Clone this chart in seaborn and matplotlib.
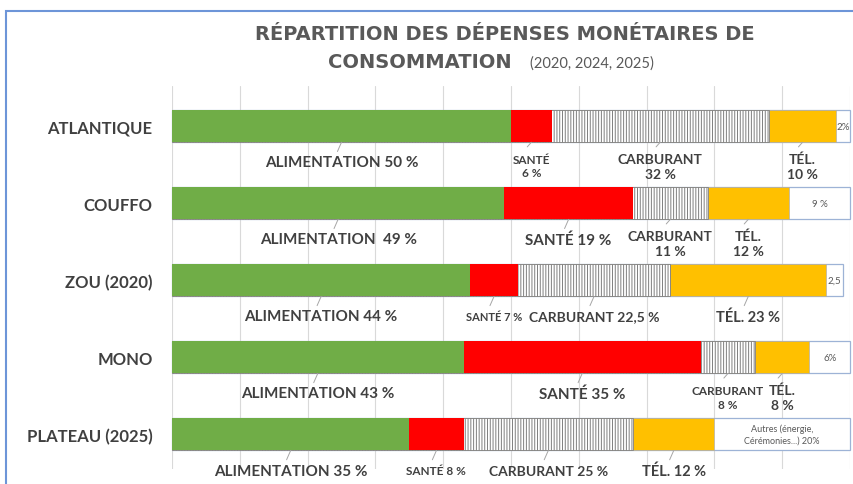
import numpy as np
import pandas as pd
import matplotlib.pyplot as plt
import matplotlib.patches as mpatches
import seaborn as sns

# data
regions = ["ATLANTIQUE", "COUFFO", "ZOU (2020)", "MONO", "PLATEAU (2025)"]
postes = ["Alimentation", "Santé", "Carburant", "Tél.", "Autres"]
alimentation = [50, 49, 44, 43, 35]
sante = [6, 19, 7, 35, 8]
carburant = [32, 11, 22.5, 8, 25]
tel = [10, 12, 23, 8, 12]
autres = [2, 9, 2.5, 6, 20]

labels_alim = ["ALIMENTATION 50 %", "ALIMENTATION  49 %", "ALIMENTATION 44 %",
               "ALIMENTATION 43 %", "ALIMENTATION 35 %"]
labels_sante = ["SANTÉ\n6 %", "SANTÉ 19 %", "SANTÉ 7 %", "SANTÉ 35 %", "SANTÉ 8 %"]
labels_carb = ["CARBURANT\n32 %", "CARBURANT\n11 %", "CARBURANT 22,5 %",
               "CARBURANT\n8 %", "CARBURANT 25 %"]
labels_tel = ["TÉL.\n10 %", "TÉL.\n12 %", "TÉL. 23 %", "TÉL.\n8 %", "TÉL. 12 %"]
labels_autres = ["2%", "9 %", "2,5", "6%", "Autres (énergie,\nCérémonies...) 20%"]

size_alim = [11, 11, 11, 11, 11]
size_sante = [8.5, 11, 8, 11, 8.5]
size_carb = [10, 10, 10, 8.5, 10]
size_tel = [10, 10, 10.5, 10, 10.5]

df = pd.DataFrame({"region": regions, "Alimentation": alimentation, "Santé": sante,
                   "Carburant": carburant, "Tél.": tel, "Autres": autres})
cum = df[postes].cumsum(axis=1)
cum["region"] = regions

sns.set_style("white")
plt.rcParams["font.family"] = ["Lato", "DejaVu Sans"]
plt.rcParams["hatch.linewidth"] = 0.7

fig = plt.figure(figsize=(8.54, 4.85), dpi=100)
ax = fig.add_axes([172 / 854, 1 - 470 / 485, 678 / 854, 383 / 485])

colors = {"Alimentation": "#70AD47", "Santé": "#FF0000", "Carburant": "white",
          "Tél.": "#FFC000", "Autres": "white"}

# stacked bars: draw cumulative totals from the last segment to the first
for p in postes[::-1]:
    before = len(ax.patches)
    sns.barplot(data=cum, y="region", x=p, orient="h", color=colors[p],
                width=0.415, saturation=1, ax=ax)
    for patch in ax.patches[before:]:
        if p == "Autres":
            patch.set_edgecolor("#9db3d6")
            patch.set_linewidth(0.9)
            patch.set_clip_on(False)
        elif p == "Carburant":
            patch.set_hatch("||||||")
            patch.set_edgecolor("#7f7f7f")
            patch.set_linewidth(0.6)
        elif p == "Tél.":
            patch.set_edgecolor("#b0b0b0")
            patch.set_linewidth(0.5)
        else:
            patch.set_linewidth(0)

ax.set_xlim(0, 100)
ax.set_ylim(4.45, -0.52)
ax.set_xticks(np.arange(0, 101, 10))
ax.set_xticklabels([])
ax.xaxis.grid(True, color="#d9d9d9", lw=0.8)
ax.set_axisbelow(True)
for s in ax.spines.values():
    s.set_visible(False)
ax.set_xlabel("")
ax.set_ylabel("")
ax.tick_params(axis="y", length=0, pad=14)
for t in ax.get_yticklabels():
    t.set_fontweight("bold")
    t.set_fontsize(12)
    t.set_color("#404040")
ax.tick_params(axis="x", length=0)

# segment labels below the bars
txt_color = "#404040"
starts = cum[postes].values - df[postes].values
mids = starts + df[postes].values / 2
all_labels = [labels_alim, labels_sante, labels_carb, labels_tel]
all_sizes = [size_alim, size_sante, size_carb, size_tel]
for i in range(len(regions)):
    for j in range(4):
        lab = all_labels[j][i]
        two = "\n" in lab
        x = mids[i, j]
        y = i + (0.52 if two else 0.47)
        ax.plot([x, x - 0.6], [i + 0.21, i + (0.27 if two else 0.33)],
                color="#a6a6a6", lw=0.7)
        ax.text(x, y, lab, ha="center", va="center", fontsize=all_sizes[j][i],
                fontweight="bold", color=txt_color, linespacing=1.3)
    # label inside the white "autres" segment
    xa = mids[i, 4]
    ax.text(xa, i, labels_autres[i], ha="center", va="center",
            fontsize=6.5 if i == 4 else 7, color="#595959", linespacing=1.4)

# titles
fig.text(505 / 854, 1 - 35 / 485, "RÉPARTITION DES DÉPENSES MONÉTAIRES DE",
         ha="center", va="center", fontsize=14, fontweight="bold",
         color="#595959", family="DejaVu Sans")
fig.text(512 / 854, 1 - 63 / 485, "CONSOMMATION", ha="right", va="center",
         fontsize=14, fontweight="bold", color="#595959", family="DejaVu Sans")
fig.text(530 / 854, 1 - 64 / 485, "(2020, 2024, 2025)", ha="left", va="center",
         fontsize=10.5, color="#595959")

# blue frame
fig.patches.append(mpatches.Rectangle((6 / 854, -0.1), 1.1, 1.1 - 12 / 485,
                                      transform=fig.transFigure, fill=False,
                                      edgecolor="#6d95d8", lw=1.5))

plt.savefig("out.png", dpi=100)
